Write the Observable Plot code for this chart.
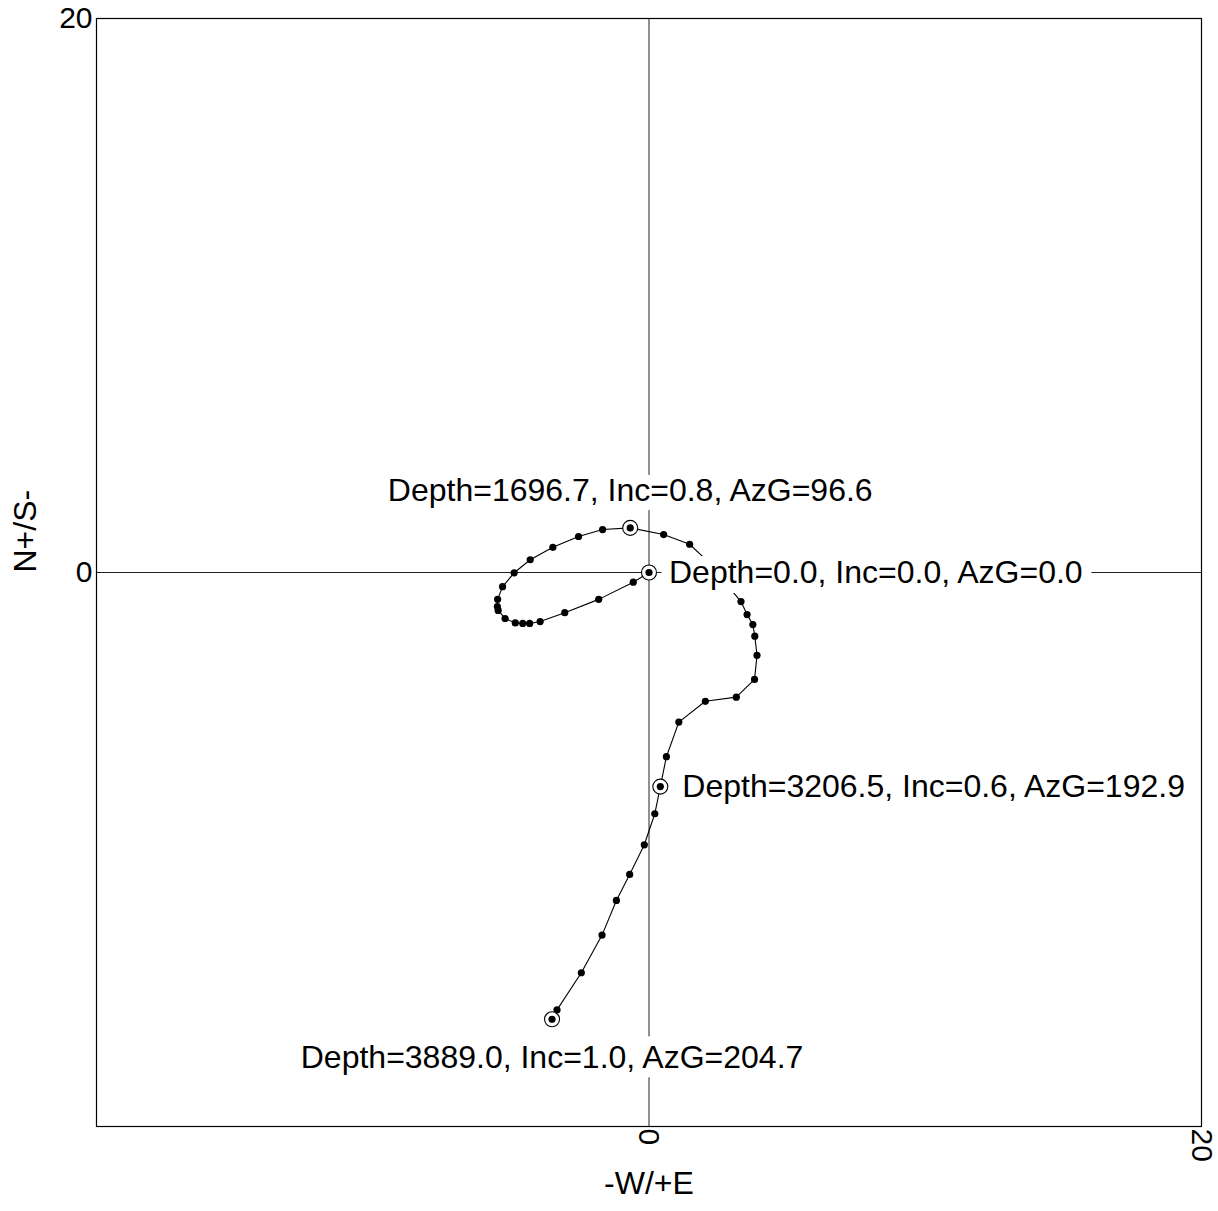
<!DOCTYPE html>
<html>
<head>
<meta charset="utf-8">
<script src="https://cdn.jsdelivr.net/npm/d3@7"></script>
<script src="https://cdn.jsdelivr.net/npm/@observablehq/plot@0.6"></script>
<style>
  html, body { margin: 0; padding: 0; background: #fff; }
  #chart svg { display: block; }
</style>
</head>
<body>
<div id="chart"></div>
<script>
// Well path plan view: East (+) / West (-) and North (+) / South (-)
const east = [0, -0.57, -1.82, -3.05, -3.94, -4.32, -4.57, -4.84, -5.21, -5.46, -5.49, -5.48, -5.30, -4.88, -4.30, -3.48, -2.55, -1.68, -0.68, 0.53, 1.47, 2.10, 2.75, 3.33, 3.55, 3.76, 3.83, 3.91, 3.82, 3.16, 2.04, 1.08, 0.63, 0.41, 0.21, -0.17, -0.70, -1.18, -1.70, -2.45, -3.33, -3.51];
const north = [0, -0.35, -0.97, -1.45, -1.77, -1.84, -1.84, -1.82, -1.66, -1.37, -1.23, -0.97, -0.51, -0.01, 0.46, 0.91, 1.30, 1.55, 1.61, 1.37, 1.02, 0.43, -0.36, -1.05, -1.52, -1.88, -2.30, -2.99, -3.86, -4.50, -4.65, -5.40, -6.65, -7.73, -8.71, -9.83, -10.90, -11.84, -13.09, -14.45, -15.79, -16.13];

// Annotated stations (index into the path) and their labels
const markedIndex = [18, 0, 33, 41];
const markedText = [
  "Depth=1696.7, Inc=0.8, AzG=96.6",
  "Depth=0.0, Inc=0.0, AzG=0.0",
  "Depth=3206.5, Inc=0.6, AzG=192.9",
  "Depth=3889.0, Inc=1.0, AzG=204.7"
];

const xTicks = [0, 20];
const yTicks = [0, 20];
const xLabel = "-W/+E";
const yLabel = "N+/S-";

const path = east.map((e, i) => ({e, n: north[i]}));
const marked = markedIndex.map((k, j) => ({e: east[k], n: north[k], text: markedText[j]}));

const font = "'Liberation Sans', Arial, sans-serif";
const labelStyle = {
  x: "e", y: "n", text: "text",
  fontSize: 32, fill: "black",
  stroke: "white", strokeWidth: 20, strokeLinejoin: "round", paintOrder: "stroke"
};

const chart = Plot.plot({
  width: 1218,
  height: 1211,
  marginLeft: 96,
  marginRight: 17,
  marginTop: 18,
  marginBottom: 85,
  style: {fontFamily: font, background: "white", color: "black"},
  x: {domain: [-20, 20]},
  y: {domain: [-20, 20]},
  marks: [
    Plot.ruleX([0], {stroke: "#222", strokeWidth: 1}),
    Plot.ruleY([0], {stroke: "#222", strokeWidth: 1}),
    Plot.frame({stroke: "black", strokeWidth: 1.2}),
    Plot.line(path, {x: "e", y: "n", stroke: "black", strokeWidth: 1.1}),
    Plot.dot(path, {x: "e", y: "n", r: 3.6, fill: "black", stroke: "none"}),
    Plot.text([marked[0]], {...labelStyle, textAnchor: "middle", dx: 0, dy: -37}),
    Plot.text([marked[1]], {...labelStyle, textAnchor: "start", dx: 20, dy: 0}),
    Plot.text([marked[2]], {...labelStyle, textAnchor: "start", dx: 22, dy: 0}),
    Plot.text([marked[3]], {...labelStyle, textAnchor: "middle", dx: 0, dy: 38}),
    Plot.dot(marked, {x: "e", y: "n", r: 7.5, fill: "white", stroke: "black", strokeWidth: 1.1}),
    Plot.dot(marked, {x: "e", y: "n", r: 3.6, fill: "black", stroke: "none"}),
    Plot.axisY({ticks: yTicks, tickSize: 0, tickPadding: 4, fontSize: 30, label: null}),
    Plot.axisX({ticks: xTicks, tickSize: 0, tickPadding: 2, tickRotate: 90, fontSize: 30, label: null}),
    Plot.text([xLabel], {text: d => d, frameAnchor: "bottom", dy: 67, fontSize: 32, fill: "black"}),
    Plot.text([yLabel], {text: d => d, frameAnchor: "left", dx: -71, rotate: -90, fontSize: 32, fill: "black"})
  ]
});
document.getElementById("chart").appendChild(chart);
</script>
</body>
</html>
